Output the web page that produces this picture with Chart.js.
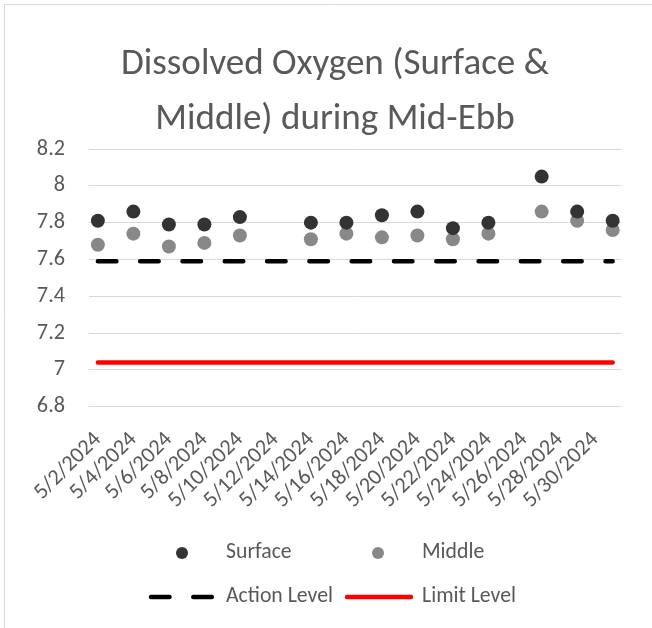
<!DOCTYPE html>
<html>
<head>
<meta charset="utf-8">
<script src="https://cdn.jsdelivr.net/npm/chart.js@4.4.1/dist/chart.umd.min.js"></script>
<style>
html,body{margin:0;padding:0;background:#fff;overflow:hidden}
#wrap{position:relative;width:652px;height:628px}
</style>
</head>
<body>
<div id="wrap"><canvas id="c" width="652" height="628"></canvas></div>
<script>
// ---------- data ----------
const days = ['5/2/2024','5/3/2024','5/4/2024','5/5/2024','5/6/2024','5/7/2024','5/8/2024','5/9/2024','5/10/2024','5/11/2024',
  '5/12/2024','5/13/2024','5/14/2024','5/15/2024','5/16/2024','5/17/2024','5/18/2024','5/19/2024','5/20/2024','5/21/2024',
  '5/22/2024','5/23/2024','5/24/2024','5/25/2024','5/26/2024','5/27/2024','5/28/2024','5/29/2024','5/30/2024','5/31/2024'];
const tickLabels = ['5/2/2024','5/4/2024','5/6/2024','5/8/2024','5/10/2024','5/12/2024','5/14/2024','5/16/2024',
  '5/18/2024','5/20/2024','5/22/2024','5/24/2024','5/26/2024','5/28/2024','5/30/2024'];
const sampleDates = ['5/2/2024','5/4/2024','5/6/2024','5/8/2024','5/10/2024','5/14/2024','5/16/2024','5/18/2024',
  '5/20/2024','5/22/2024','5/24/2024','5/27/2024','5/29/2024','5/31/2024'];
const surface = [7.81,7.86,7.79,7.79,7.83,7.80,7.80,7.84,7.86,7.77,7.80,8.05,7.86,7.81];
const middle  = [7.68,7.74,7.67,7.69,7.73,7.71,7.74,7.72,7.73,7.71,7.74,7.86,7.81,7.76];
const actionLevel = 7.59;
const limitLevel = 7.04;
const yMin = 6.8, yMax = 8.2, yStep = 0.2;
const titleLines = ['Dissolved Oxygen (Surface &', 'Middle) during Mid-Ebb'];
const seriesNames = ['Surface', 'Middle', 'Action Level', 'Limit Level'];

// ---------- fonts ----------
const FAMILY = 'Carlito, Lato, "Open Sans", sans-serif';
function fitSize(text, target) {
  const c = document.createElement('canvas').getContext('2d');
  c.font = '100px ' + FAMILY;
  return 100 * target / c.measureText(text).width;
}
const titleSize = fitSize(titleLines[0], 428);
const legendSize = fitSize('Action Level', 107);
const tickSize = fitSize('5/10/2024', 96);
const TEXT = '#595959';

// ---------- layout ----------
const TITLE_LH = 55;
const X_AXIS_H = 120;
const BOTTOM_PAD = 628 - 406.7 - X_AXIS_H;

const pts = (vals) => sampleDates.map((d, i) => ({x: d, y: vals[i]}));
const levelLine = (v) => [{x: days[0], y: v}, {x: days[days.length - 1], y: v}];

const bgBorder = {
  id: 'bgBorder',
  beforeDraw(chart) {
    const ctx = chart.ctx;
    ctx.save();
    ctx.fillStyle = '#fff';
    ctx.fillRect(0, 0, chart.width, chart.height);
    ctx.strokeStyle = '#d9d9d9';
    ctx.lineWidth = 1;
    ctx.beginPath();
    ctx.moveTo(4.5, chart.height);
    ctx.lineTo(4.5, 4.5);
    ctx.lineTo(chart.width, 4.5);
    ctx.stroke();
    ctx.restore();
  }
};

const gridLegend = {
  id: 'gridLegend',
  afterDraw(chart) {
    const ctx = chart.ctx;
    const rows = [553, 597];
    const cols = [182, 378];
    ctx.save();
    chart.data.datasets.forEach((ds, i) => {
      const cx = cols[i % 2];
      const cy = rows[Math.floor(i / 2)];
      if (ds.showLine === false) {
        ctx.fillStyle = ds.pointBackgroundColor;
        ctx.beginPath();
        ctx.arc(cx, cy, 6, 0, Math.PI * 2);
        ctx.fill();
      } else {
        ctx.strokeStyle = ds.borderColor;
        ctx.lineWidth = ds.borderWidth;
        ctx.lineCap = 'round';
        ctx.setLineDash(ds.borderDash || []);
        ctx.beginPath();
        ctx.moveTo(cx - 31, cy);
        ctx.lineTo(cx + 33, cy);
        ctx.stroke();
        ctx.setLineDash([]);
      }
      ctx.fillStyle = TEXT;
      ctx.font = legendSize + 'px ' + FAMILY;
      ctx.textBaseline = 'middle';
      ctx.textAlign = 'left';
      ctx.fillText(ds.label, cx + 44, cy);
    });
    ctx.restore();
  }
};

new Chart(document.getElementById('c'), {
  type: 'line',
  data: {
    labels: days,
    datasets: [
      {label: seriesNames[0], data: pts(surface), showLine: false, pointRadius: 7, pointHoverRadius: 7,
       pointBorderWidth: 0, pointBackgroundColor: '#333333', borderColor: '#333333', backgroundColor: '#333333'},
      {label: seriesNames[1], data: pts(middle), showLine: false, pointRadius: 7, pointHoverRadius: 7,
       pointBorderWidth: 0, pointBackgroundColor: '#888888', borderColor: '#888888', backgroundColor: '#888888'},
      {label: seriesNames[2], data: levelLine(actionLevel), borderColor: '#000000', backgroundColor: '#000000',
       borderWidth: 4.5, borderDash: [18.5, 23.8], borderCapStyle: 'round', pointRadius: 0, fill: false},
      {label: seriesNames[3], data: levelLine(limitLevel), borderColor: '#ff0000', backgroundColor: '#ff0000',
       borderWidth: 4.5, borderCapStyle: 'round', pointRadius: 0, fill: false}
    ]
  },
  options: {
    responsive: false,
    animation: false,
    devicePixelRatio: 1,
    events: [],
    layout: {padding: {left: 18, right: 0, top: 0, bottom: BOTTOM_PAD}},
    plugins: {
      legend: {display: false},
      tooltip: {enabled: false},
      title: {
        display: true,
        text: titleLines,
        color: TEXT,
        font: {family: FAMILY, size: titleSize, weight: 'normal', lineHeight: TITLE_LH / titleSize},
        padding: {top: 37.1, bottom: 149 - 37.1 - 2 * TITLE_LH}
      }
    },
    scales: {
      x: {
        type: 'category',
        offset: true,
        grid: {display: false, drawTicks: false},
        border: {display: false},
        ticks: {
          autoSkip: false, maxRotation: 45, minRotation: 45, padding: 20,
          color: TEXT, font: {family: FAMILY, size: tickSize},
          callback: function(v, i) { return tickLabels.includes(days[i]) ? days[i] : ''; }
        },
        afterFit: (s) => { s.height = X_AXIS_H; }
      },
      y: {
        type: 'linear',
        position: 'left',
        min: yMin, max: yMax,
        grid: {color: '#d9d9d9', lineWidth: 1, drawTicks: false},
        border: {display: false},
        ticks: {
          stepSize: yStep, padding: 24, color: TEXT, font: {family: FAMILY, size: tickSize},
          callback: (v) => String(Number(v.toFixed(1)))
        },
        afterFit: (s) => { s.width = 71; }
      },
      yR: {
        type: 'linear',
        position: 'right',
        display: true,
        grid: {display: false, drawTicks: false},
        border: {display: false},
        ticks: {display: false},
        afterFit: (s) => { s.width = 28; }
      }
    }
  },
  plugins: [bgBorder, gridLegend]
});
</script>
</body>
</html>
